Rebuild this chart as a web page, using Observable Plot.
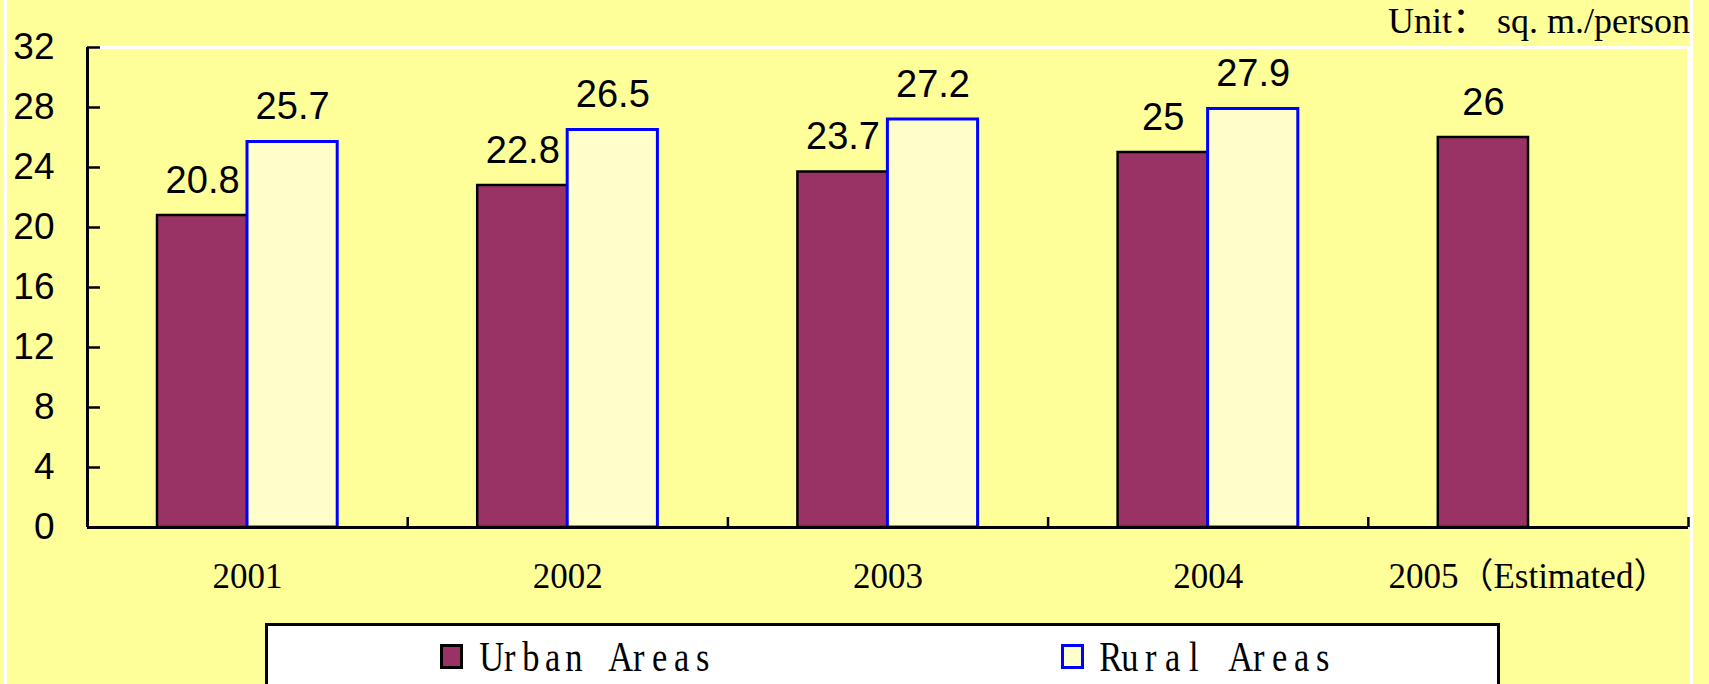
<!DOCTYPE html>
<html>
<head>
<meta charset="utf-8">
<script src="https://cdn.jsdelivr.net/npm/d3@7"></script>
<script src="https://cdn.jsdelivr.net/npm/@observablehq/plot@0.6"></script>
<style>
  html, body { margin: 0; padding: 0; }
  body { width: 1709px; height: 684px; overflow: hidden; background: #FFFF99; position: relative; }
  #frame { position: absolute; left: 4px; top: 0; width: 1689px; height: 684px; box-sizing: border-box;
           border-left: 3px solid #fff; border-right: 3px solid #fff; pointer-events: none; }
  #chart { position: absolute; left: 0; top: 0; }
  #unit { position: absolute; right: 19px; top: 3px; font: 36px/1 "Liberation Serif", "Noto Sans CJK SC", serif; color: #000; white-space: pre; }
  #legend { position: absolute; left: 265px; top: 623px; width: 1235px; height: 120px; box-sizing: border-box;
            background: #fff; border: 3px solid #000; }
  .sw { position: absolute; top: 18px; width: 23px; height: 25px; box-sizing: border-box; border: 3px solid; }
  .lt { position: absolute; top: 9px; font: 43px/43px "Liberation Serif", serif; color: #000; white-space: pre; }
  .lt span { display: inline-block; width: 21.5px; text-align: center; transform: scaleX(0.8); }
</style>
</head>
<body>
<div id="chart"></div>
<div id="unit">Unit： sq. m./person</div>
<div id="legend"></div>
<div id="frame"></div>
<script>
// ---- data ----
const years = ["2001", "2002", "2003", "2004", "2005（Estimated）"];
const urban = [20.8, 22.8, 23.7, 25, 26];
const rural = [25.7, 26.5, 27.2, 27.9, null];
const yTicks = [0, 4, 8, 12, 16, 20, 24, 28, 32];
const seriesNames = ["Urban Areas", "Rural Areas"];
const colors = { urban: "#993366", urbanStroke: "#000000", rural: "#FFFFCC", ruralStroke: "#0000FF" };

const rows = years.map((y, i) => ({ i, year: y, urban: urban[i], rural: rural[i] }));
const ruralRows = rows.filter(d => d.rural != null);

const chart = Plot.plot({
  width: 1709,
  height: 620,
  marginTop: 47,
  marginLeft: 87,
  marginRight: 21,
  marginBottom: 93,
  style: { background: "transparent", color: "#000", overflow: "visible" },
  x: { domain: [0, years.length] },
  y: { domain: [0, 32] },
  marks: [
    Plot.ruleY([32], { stroke: "#fff", strokeWidth: 3 }),
    Plot.ruleX([years.length], { stroke: "#fff", strokeWidth: 3 }),
    Plot.rectY(rows, { x1: "i", x2: d => d.i + 1, y: "urban", insetLeft: 70, insetRight: 160,
      fill: colors.urban, stroke: colors.urbanStroke, strokeWidth: 2.5 }),
    Plot.rectY(ruralRows, { x1: "i", x2: d => d.i + 1, y: "rural", insetLeft: 160, insetRight: 70,
      fill: colors.rural, stroke: colors.ruralStroke, strokeWidth: 3 }),
    Plot.text(rows, { x: d => d.i + 0.5, y: "urban", text: d => String(d.urban), dx: -45, dy: -23,
      lineAnchor: "bottom", fontSize: 38, fontFamily: "Liberation Sans", fill: "#000" }),
    Plot.text(ruralRows, { x: d => d.i + 0.5, y: "rural", text: d => String(d.rural), dx: 45, dy: -23,
      lineAnchor: "bottom", fontSize: 38, fontFamily: "Liberation Sans", fill: "#000" }),
    Plot.ruleX([0], { stroke: "#000", strokeWidth: 3 }),
    Plot.ruleY([0], { stroke: "#000", strokeWidth: 3 }),
    Plot.axisY({ ticks: yTicks, tickSize: -13, tickPadding: 46, strokeWidth: 2.5, label: null,
      fontSize: 37, fontFamily: "Liberation Sans" }),
    Plot.axisX({ ticks: d3.range(years.length + 1), tickSize: -10, tickFormat: () => "", strokeWidth: 2.5, label: null }),
    Plot.axisX({ ticks: rows.map(d => d.i + 0.5), tickFormat: v => years[Math.floor(v)], tickSize: 0,
      tickPadding: 36, label: null, fontSize: 35, fontFamily: "Liberation Serif, Noto Sans CJK SC" })
  ]
});
document.getElementById("chart").appendChild(chart);

// legend
const legend = document.getElementById("legend");
const items = [
  { name: seriesNames[0], fill: colors.urban, stroke: colors.urbanStroke, sx: 172, tx: 209 },
  { name: seriesNames[1], fill: colors.rural, stroke: colors.ruralStroke, sx: 793, tx: 829 }
];
for (const it of items) {
  const sw = document.createElement("div");
  sw.className = "sw";
  sw.style.left = it.sx + "px";
  sw.style.background = it.fill;
  sw.style.borderColor = it.stroke;
  legend.appendChild(sw);
  const t = document.createElement("div");
  t.className = "lt";
  t.style.left = it.tx + "px";
  for (const ch of it.name) {
    const s = document.createElement("span");
    s.textContent = ch;
    t.appendChild(s);
  }
  legend.appendChild(t);
}
</script>
</body>
</html>
